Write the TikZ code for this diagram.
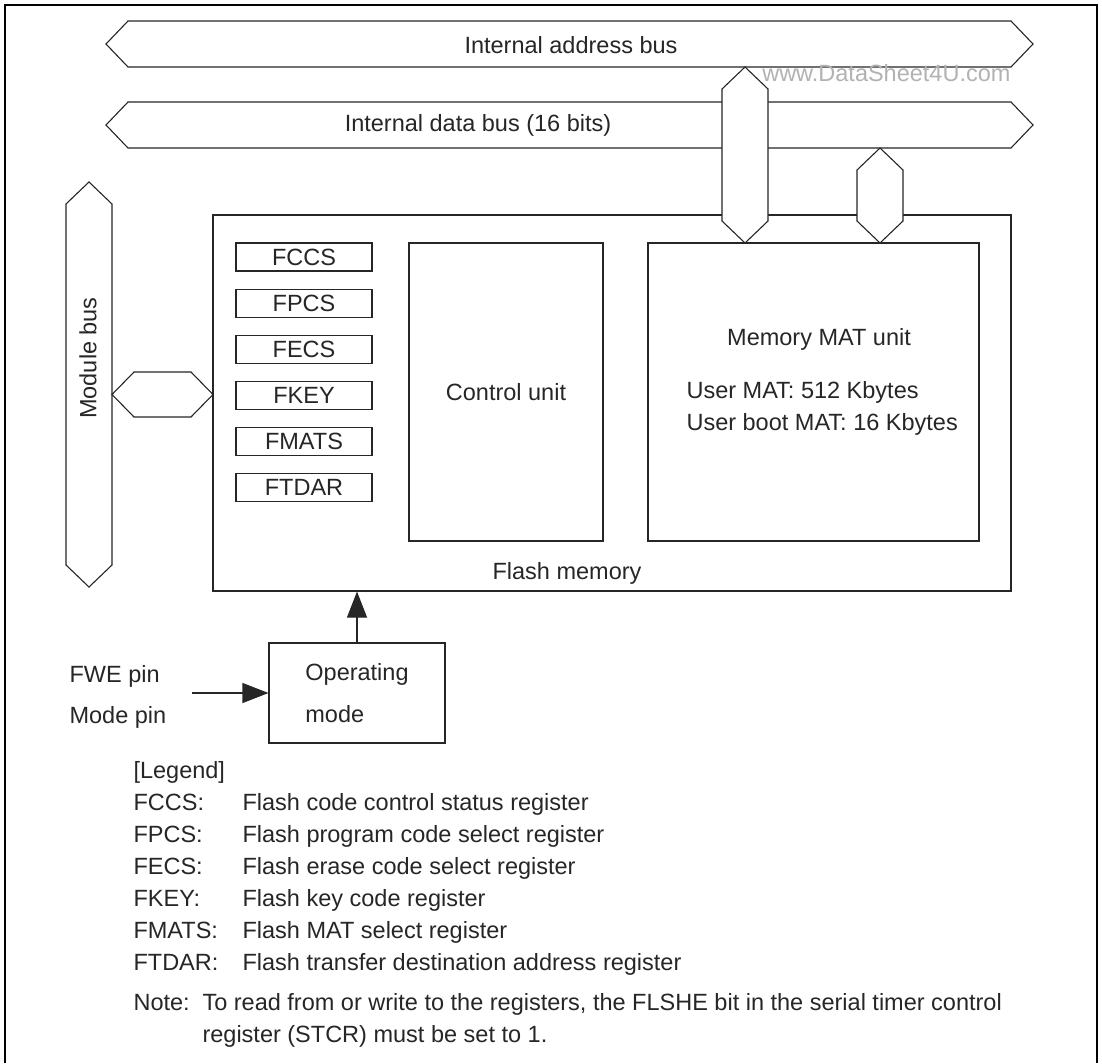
\documentclass[tikz,border=0pt]{standalone}
\usepackage{fontspec}
\setmainfont{Liberation Sans}
\usepackage{tikz}
\usetikzlibrary{arrows.meta, positioning}

% hexagonal bus shapes: left, right, top, bottom
\newcommand{\hbus}[4]{\draw[bus] (#1,{(#3+#4)/2}) -- ({#1+22},#3) -- ({#2-22},#3) -- (#2,{(#3+#4)/2}) -- ({#2-22},#4) -- ({#1+22},#4) -- cycle;}
\newcommand{\vbus}[4]{\draw[bus] ({(#1+#2)/2},#3) -- (#2,{#3+22}) -- (#2,{#4-22}) -- ({(#1+#2)/2},#4) -- (#1,{#4-22}) -- (#1,{#3+22}) -- cycle;}

\begin{document}
\begin{tikzpicture}[
    x=1pt, y=-1pt,
    font=\fontsize{23.5}{32}\selectfont,
    color=black!85,
    line width=1.1pt,
    unit/.style={rectangle, draw, inner sep=0pt},
    reg/.style={rectangle, draw, inner sep=0pt, minimum width=136pt, minimum height=28pt},
    bus/.style={draw, fill=white, line join=miter},
    arrow/.style={-{Triangle[length=26pt, width=20pt]}}
]
\useasboundingbox (0,0) rectangle (1102,1063);

% frame
\draw[black, line width=2.5pt] (5,1063) -- (5,5) -- (1097,5) -- (1097,1063);

% buses
\hbus{106}{1033}{21}{67}
\hbus{106}{1033}{102}{148}
\vbus{66}{112}{182}{587}
\hbus{112}{213}{372}{417}

% flash memory block
\node[unit, minimum width=798pt, minimum height=376pt] (flash) at (612,403) {};
\node[unit, minimum width=194pt, minimum height=298pt] (ctrl) at (506,392) {Control unit};
\node[unit, minimum width=331pt, minimum height=298pt] (mat) at (813.5,392) {};

\node[reg] (fccs) at (304,257) {FCCS};
\node[reg, below=17pt of fccs] (fpcs) {FPCS};
\node[reg, below=17pt of fpcs] (fecs) {FECS};
\node[reg, below=17pt of fecs] (fkey) {FKEY};
\node[reg, below=17pt of fkey] (fmats) {FMATS};
\node[reg, below=17pt of fmats] (ftdar) {FTDAR};

% bus links into the memory MAT
\vbus{722}{768}{67}{243}
\vbus{857}{903}{148}{243}

% labels
\node (addrbus) at (571,45) {Internal address bus};
\node (databus) at (478,125) {Internal data bus (16 bits)};
\node[rotate=90] (modbus) at (88,358) {Module bus};
\node (flashlbl) at (567,573) {Flash memory};
\node (mattitle) at (819,339) {Memory MAT unit};
\node[anchor=west, align=left, inner sep=0pt] (matsize) at (686,408) {User MAT: 512 Kbytes\\User boot MAT: 16 Kbytes};
\node[anchor=east, inner sep=0pt, text=black!30] (wmark) at (1011,73) {www.DataSheet4U.com};

% operating mode
\node[unit, minimum width=176pt, minimum height=100pt, align=left] (opmode) at (357,693) {Operating\\[10pt]mode};
\node[anchor=west, align=left, inner sep=0pt] (pins) at (69,697) {FWE pin\\[9pt]Mode pin};
\coordinate (pinend) at (192,693);

\draw[arrow] (pinend) -- (opmode);
\draw[arrow] (opmode) -- (opmode |- flash.south);

% legend
\node[anchor=base west, inner sep=0pt] (legend) at (133,778) {\begin{tabular}[t]{@{}p{109pt}@{}l@{}}
\multicolumn{2}{@{}l@{}}{[Legend]}\\
FCCS: & Flash code control status register\\
FPCS: & Flash program code select register\\
FECS: & Flash erase code select register\\
FKEY: & Flash key code register\\
FMATS: & Flash MAT select register\\
FTDAR: & Flash transfer destination address register
\end{tabular}};
\node[anchor=base west, inner sep=0pt] (note) at (133,1010) {\begin{tabular}[t]{@{}p{69pt}@{}l@{}}
Note: & To read from or write to the registers, the FLSHE bit in the serial timer control\\
 & register (STCR) must be set to 1.
\end{tabular}};

\end{tikzpicture}
\end{document}
